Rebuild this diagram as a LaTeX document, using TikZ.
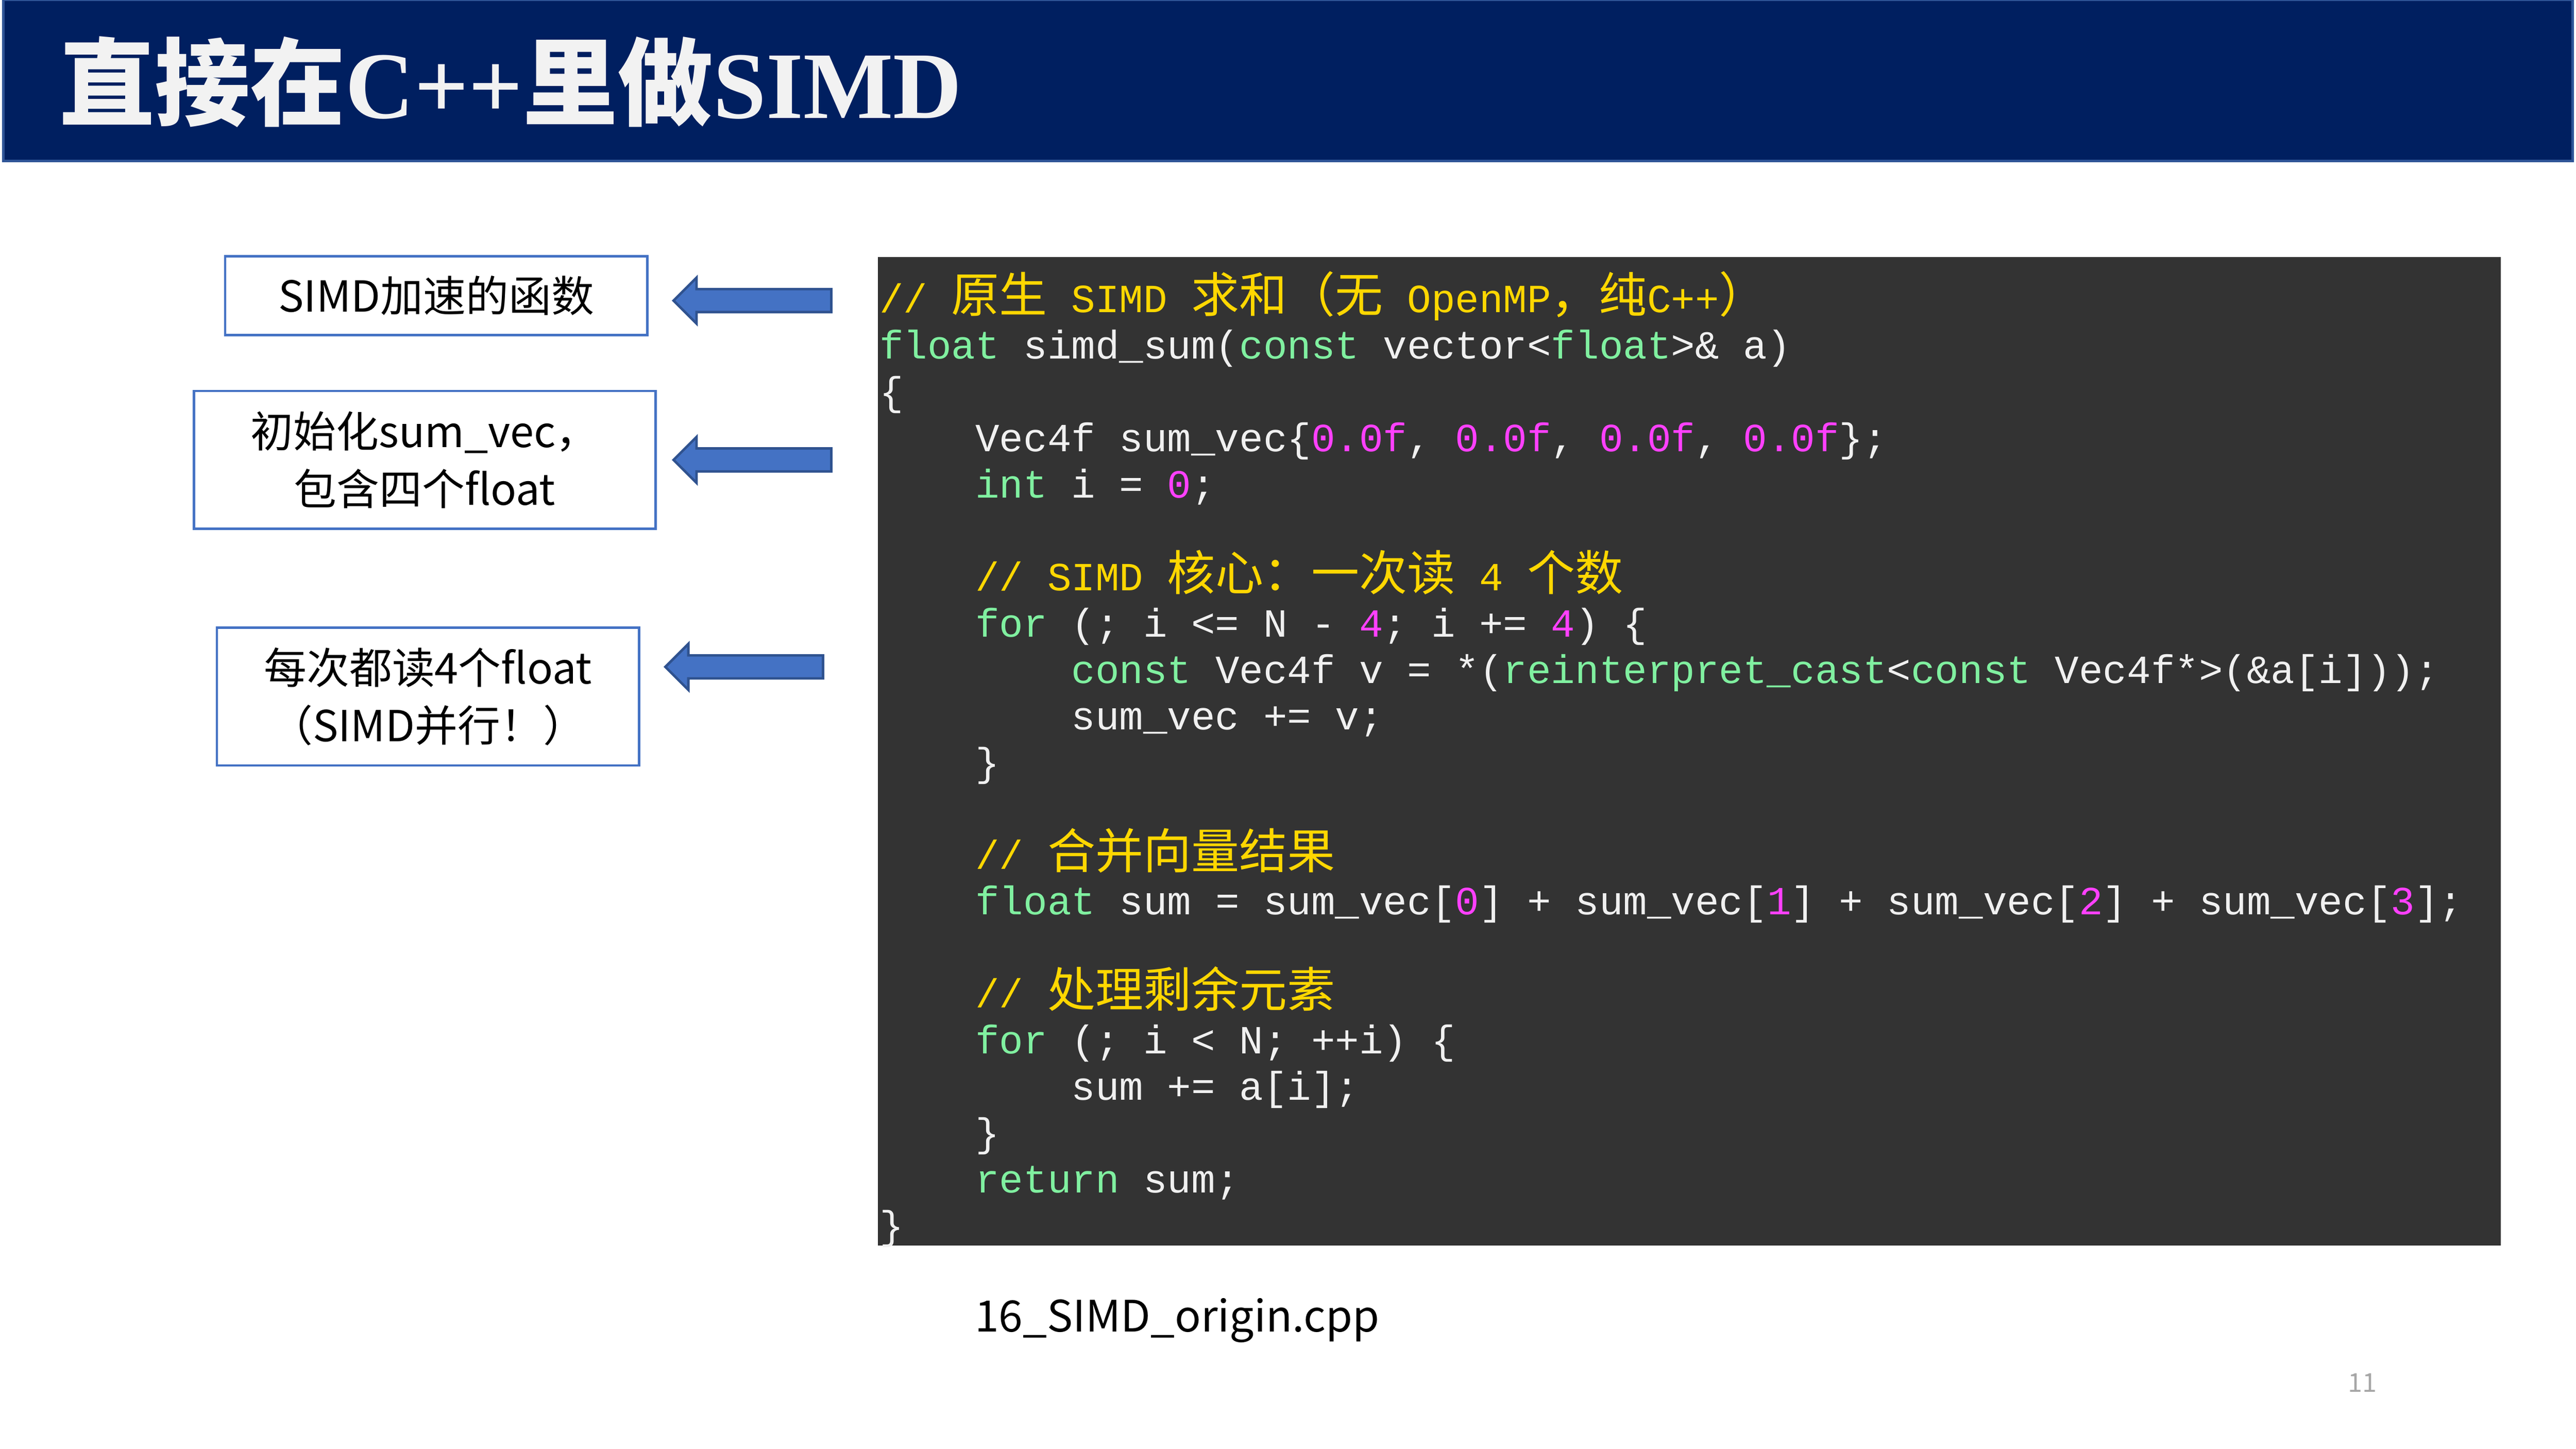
\documentclass[tikz,border=0pt]{standalone}
\usepackage{fontspec}
\setmainfont{Noto Sans CJK SC}
\newfontfamily\codefont{Liberation Mono}
\newfontfamily\codezh{Noto Sans CJK SC}[Scale=1.2]
\newfontfamily\titlelatin{Liberation Serif}
\newfontfamily\titlezh{Noto Sans CJK SC}
\usetikzlibrary{positioning}

\definecolor{barblue}{RGB}{0,31,96}
\definecolor{barline}{RGB}{47,85,151}
\definecolor{boxblue}{RGB}{68,114,196}
\definecolor{arrowline}{RGB}{47,82,143}
\definecolor{codebg}{RGB}{51,51,51}
\definecolor{codetext}{RGB}{240,240,240}
\definecolor{cmtyellow}{RGB}{255,215,0}
\definecolor{kwgreen}{RGB}{128,240,160}
\definecolor{nummagenta}{RGB}{255,64,255}

\newcommand{\kw}[1]{\textcolor{kwgreen}{#1}}
\newcommand{\nm}[1]{\textcolor{nummagenta}{#1}}
\newcommand{\zh}[1]{{\codezh #1}}
\newcommand{\cmt}[1]{\textcolor{cmtyellow}{#1}}

\begin{document}
\begin{tikzpicture}[
    x=0.02cm, y=-0.02cm,
    notebox/.style={
        rectangle,
        draw=boxblue,
        line width=0.03cm,
        fill=white,
        align=center,
        font=\fontsize{14.8pt}{20pt}\selectfont
    },
    blockarrow/.style={
        fill=boxblue,
        draw=arrowline,
        line width=0.03cm
    }
]
\useasboundingbox (0,0) rectangle (1568,882);

% title bar
\node[rectangle, draw=barline, line width=0.03cm, fill=barblue,
      minimum width=31.28cm, minimum height=1.96cm, inner sep=0pt]
    (titlebar) at (784,49) {};
\node[anchor=west, text={rgb,255:red,242;green,242;blue,242}, inner sep=0pt,
      font=\fontsize{33pt}{36pt}\selectfont\bfseries]
    (title) at (36,50) {\titlezh 直接在\titlelatin C++\titlezh 里做\titlelatin SIMD};

% code panel
\node[rectangle, fill=codebg, minimum width=19.76cm, minimum height=12.04cm,
      inner sep=0pt, anchor=north west]
    (codebox) at (534,156) {};
\node[anchor=north west, inner sep=0pt, align=left, text=codetext,
      font=\codefont\fontsize{13.85pt}{16.05pt}\selectfont]
    (code) at (535,165) {%
\cmt{// \zh{原生} SIMD \zh{求和（无} OpenMP\zh{，纯}C++\zh{）}}\\
\kw{float} simd\_sum(\kw{const} vector<\kw{float}>\& a)\\
\{\\
~~~~Vec4f sum\_vec\{\nm{0.0f}, \nm{0.0f}, \nm{0.0f}, \nm{0.0f}\};\\
~~~~\kw{int} i = \nm{0};\\
\mbox{}\\
~~~~\cmt{// SIMD \zh{核心：一次读} 4 \zh{个数}}\\
~~~~\kw{for} (; i <= N - \nm{4}; i += \nm{4}) \{\\
~~~~~~~~\kw{const} Vec4f v = *(\kw{reinterpret\_cast}<\kw{const} Vec4f*>(\&a[i]));\\
~~~~~~~~sum\_vec += v;\\
~~~~\}\\
\mbox{}\\
~~~~\cmt{// \zh{合并向量结果}}\\
~~~~\kw{float} sum = sum\_vec[\nm{0}] + sum\_vec[\nm{1}] + sum\_vec[\nm{2}] + sum\_vec[\nm{3}];\\
\mbox{}\\
~~~~\cmt{// \zh{处理剩余元素}}\\
~~~~\kw{for} (; i < N; ++i) \{\\
~~~~~~~~sum += a[i];\\
~~~~\}\\
~~~~\kw{return} sum;\\
\}};

% notes on the left
\node[notebox, minimum width=5.14cm, minimum height=0.96cm] (note1) at (265.5,180) {SIMD加速的函数};
\node[notebox, minimum width=5.62cm, minimum height=1.68cm] (note2) at (258.5,280) {初始化sum\_vec，\\包含四个float};
\node[notebox, minimum width=5.14cm, minimum height=1.68cm] (note3) at (260.5,424) {每次都读4个float\\（SIMD并行！）};

% block arrows pointing at the notes
\foreach \tipx/\ay in {410/183, 410/280, 405/406}{
    \draw[blockarrow] (\tipx,\ay) -- ++(14,-14) -- ++(0,7) -- ++(82,0) -- ++(0,14)
        -- ++(-82,0) -- ++(0,7) -- cycle;
}

% caption and page number
\node[anchor=west, inner sep=0pt, font=\fontsize{15pt}{18pt}\selectfont] (caption)
    at (593,804) {16\_SIMD\_origin.cpp};
\node[inner sep=0pt, text={rgb,255:red,166;green,166;blue,166},
      font=\fontsize{9pt}{11pt}\selectfont] (pagenum) at (1438,842) {11};
\end{tikzpicture}
\end{document}
